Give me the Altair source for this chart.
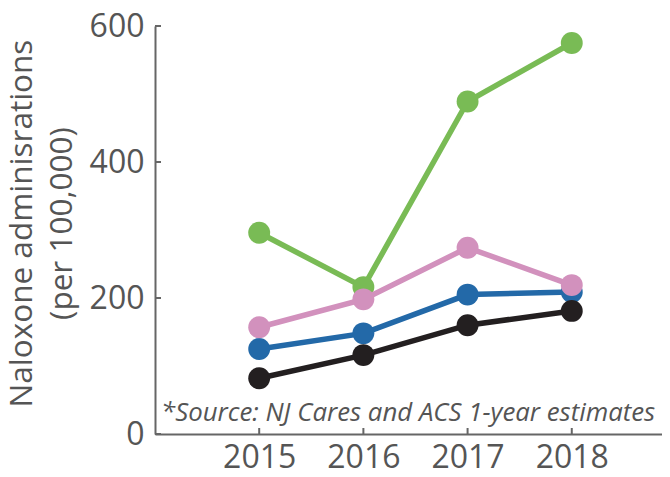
import altair as alt
import pandas as pd

years = [2015, 2016, 2017, 2018]
green_vals = [296, 216, 489, 575]
blue_vals = [125, 148, 205, 209]
pink_vals = [157, 198, 274, 219]
black_vals = [82, 116, 160, 181]
series_names = ["Series A", "Series B", "Series C", "Series D"]
series_values = [green_vals, blue_vals, pink_vals, black_vals]
series_colors = ["#79bb55", "#2369a8", "#d291bd", "#231f20"]
y_ticks = [0, 200, 400, 600]
y_title = ["Naloxone adminisrations", "(per 100,000)"]
source_note = "*Source: NJ Cares and ACS 1-year estimates"

W, H = 507, 408
FONT = "Open Sans"
GREY = "#555555"
AXIS_GREY = "#666666"

xscale = alt.Scale(domain=[2014, 2018.866], nice=False, zero=False)
yscale = alt.Scale(domain=[0, 600], nice=False)

x_axis = alt.Axis(values=years, format="d", title=None, ticks=False, grid=False,
                  labelFontSize=32, labelFont=FONT, labelColor=GREY, labelPadding=8,
                  domainColor=AXIS_GREY, domainWidth=2, labelFlush=False, labelOverlap=False)
y_axis = alt.Axis(values=y_ticks, format="d", title=y_title, ticks=False, grid=False,
                  labelFontSize=32, labelFont=FONT, labelColor=GREY, labelPadding=11,
                  domainColor=AXIS_GREY, domainWidth=2, labelFlush=False, labelOverlap=False,
                  titleFontSize=31.5, titleFont=FONT, titleColor=GREY, titleFontWeight="normal",
                  titleLineHeight=40, titleX=-117, titleY=197, titleAngle=270,
                  titleAlign="center", titleBaseline="bottom")

rows = []
for name, vals in zip(series_names, series_values):
    for yr, v in zip(years, vals):
        rows.append({"series": name, "year": yr, "value": v})
df = pd.DataFrame(rows)

layers = []
for name, color in zip(series_names, series_colors):
    sub = df[df["series"] == name]
    base = alt.Chart(sub).encode(
        x=alt.X("year:Q", scale=xscale, axis=x_axis),
        y=alt.Y("value:Q", scale=yscale, axis=y_axis),
    )
    layers.append(base.mark_line(color=color, strokeWidth=5.5))
    layers.append(base.mark_circle(color=color, size=480, opacity=1))

ytick_layer = alt.Chart(pd.DataFrame({"value": y_ticks})).mark_rule(
    color=AXIS_GREY, strokeWidth=2).encode(
    y=alt.Y("value:Q", scale=yscale, axis=y_axis),
    x=alt.value(0), x2=alt.value(6))
xtick_layer = alt.Chart(pd.DataFrame({"year": years})).mark_rule(
    color=AXIS_GREY, strokeWidth=2).encode(
    x=alt.X("year:Q", scale=xscale, axis=x_axis),
    y=alt.value(H), y2=alt.value(H - 6))

note_layer = alt.Chart(pd.DataFrame({"note": [source_note]})).mark_text(
    align="left", baseline="alphabetic", font=FONT, fontSize=25.8,
    fontStyle="italic", color=GREY).encode(
    text="note:N", x=alt.value(6), y=alt.value(395))

chart = alt.layer(ytick_layer, xtick_layer, *layers, note_layer).properties(
    width=W, height=H,
    autosize=alt.AutoSizeParams(type="none"),
    padding={"left": 147, "top": 18, "right": 0, "bottom": 35},
).configure_view(stroke=None)

chart.save("out.html", embed_options={"renderer": "svg", "actions": False})
